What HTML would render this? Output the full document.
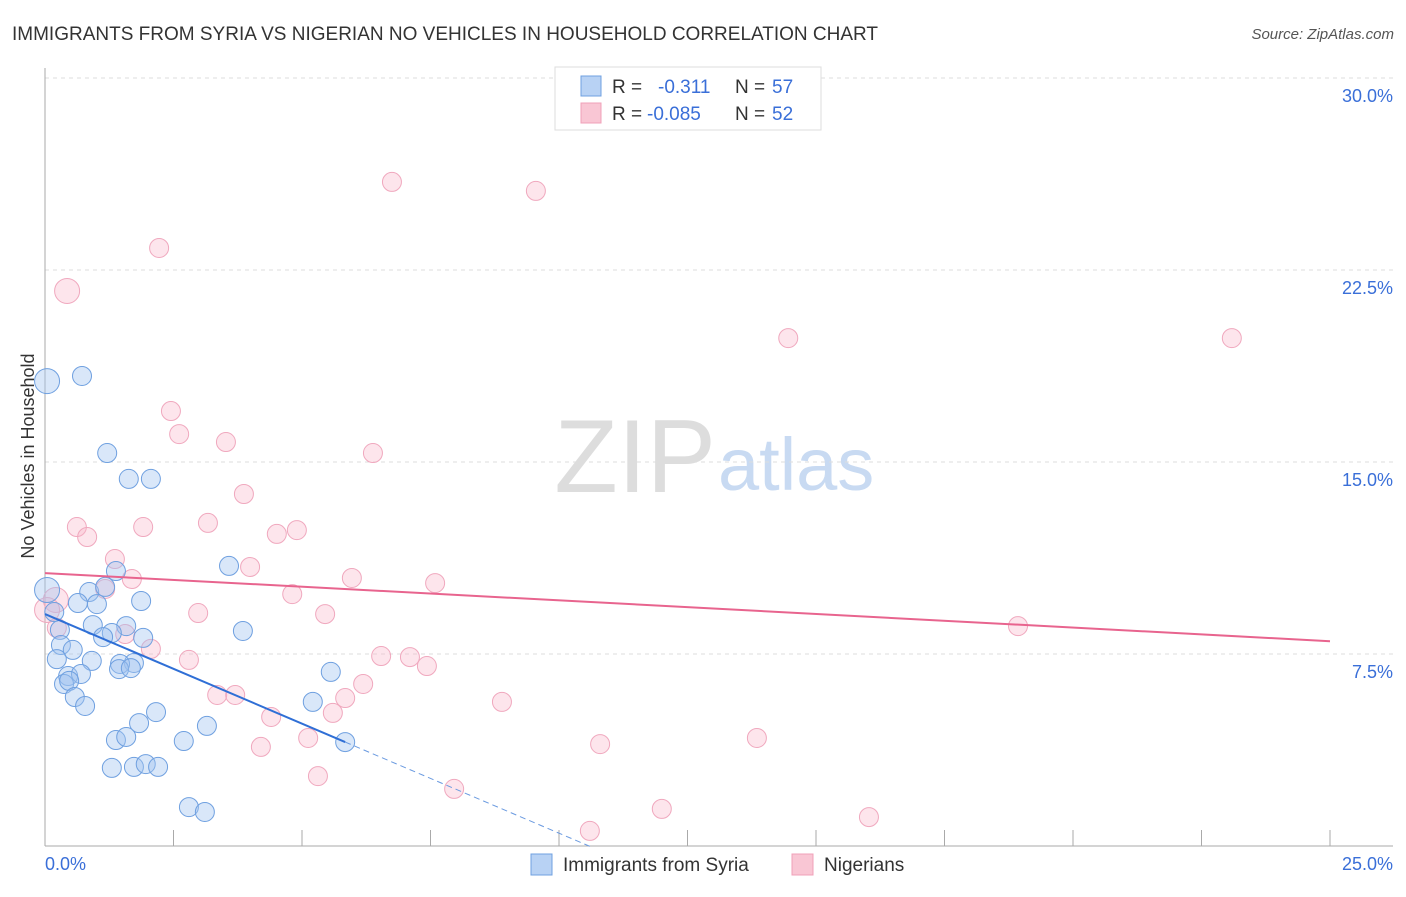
<!DOCTYPE html>
<html><head><meta charset="utf-8"><style>
body{margin:0;background:#fff;font-family:"Liberation Sans",sans-serif;}
svg text{font-family:"Liberation Sans",sans-serif;}
</style></head><body>
<svg id="chart" width="1406" height="892">
<text x="12" y="40" font-size="19" fill="#333">IMMIGRANTS FROM SYRIA VS NIGERIAN NO VEHICLES IN HOUSEHOLD CORRELATION CHART</text>
<text x="1394" y="39" font-size="15" fill="#555" font-style="italic" text-anchor="end">Source: ZipAtlas.com</text>
<text x="716" y="492" font-size="104" fill="#ddd" text-anchor="end" font-family="Liberation Serif">ZIP</text>
<text x="718" y="490" font-size="74" fill="#c8daf2">atlas</text>
<g id="grid"></g>
<g id="axes"></g>
<g id="marks"></g>
<text transform="translate(34,456) rotate(-90)" font-size="18" fill="#333" text-anchor="middle">No Vehicles in Household</text>
<g>
<rect x="555" y="67" width="266" height="63" fill="#fff" stroke="#ddd"/>
<rect x="581" y="76" width="20" height="20" fill="#b8d2f4" stroke="#6fa0e0"/>
<rect x="581" y="103" width="20" height="20" fill="#f9c6d4" stroke="#f0a0b8"/>
<text x="612" y="93" font-size="19" fill="#333">R =</text>
<text x="658" y="93" font-size="19" fill="#3a6fd8">-0.311</text>
<text x="735" y="93" font-size="19" fill="#333">N =</text>
<text x="772" y="93" font-size="19" fill="#3a6fd8">57</text>
<text x="612" y="120" font-size="19" fill="#333">R =</text>
<text x="647" y="120" font-size="19" fill="#3a6fd8">-0.085</text>
<text x="735" y="120" font-size="19" fill="#333">N =</text>
<text x="772" y="120" font-size="19" fill="#3a6fd8">52</text>
</g>
<g>
<rect x="531" y="854" width="21" height="21" fill="#b8d2f4" stroke="#6fa0e0"/>
<text x="563" y="871" font-size="19" fill="#333">Immigrants from Syria</text>
<rect x="792" y="854" width="21" height="21" fill="#f9c6d4" stroke="#f0a0b8"/>
<text x="824" y="871" font-size="19" fill="#333">Nigerians</text>
</g>
</svg>
<script>
const xTicks=[0,2.5,5,7.5,10,12.5,15,17.5,20,22.5,25];
const yTicks=[7.5,15,22.5,30];
const yTickLabels=["7.5%","15.0%","22.5%","30.0%"];
const xEndLabels=["0.0%","25.0%"];
const syriaX=[0.04,0.72,1.21,1.63,2.06,3.58,3.85,1.38,0.86,1.17,1.87,0.64,1.01,0.93,1.58,1.30,0.18,0.29,1.13,1.91,0.31,0.54,0.23,0.91,1.73,1.46,1.44,1.67,5.56,0.45,0.70,0.37,0.47,0.58,0.78,5.21,2.16,1.83,3.15,1.38,1.58,2.70,5.84,1.30,1.73,1.96,2.20,2.80,3.11,0.04];
const syriaY=[18.16,18.36,15.35,14.34,14.34,10.94,8.40,10.74,9.92,10.12,9.57,9.49,9.45,8.63,8.59,8.32,9.14,8.44,8.16,8.13,7.85,7.66,7.30,7.23,7.15,7.11,6.91,6.95,6.80,6.64,6.72,6.33,6.45,5.82,5.47,5.63,5.23,4.80,4.69,4.14,4.26,4.10,4.06,3.05,3.09,3.20,3.09,1.52,1.33,10.00];
const nigX=[6.75,9.55,2.22,0.43,14.46,23.09,2.45,2.61,3.52,6.38,3.87,0.62,3.17,4.90,0.82,4.51,1.91,1.36,3.99,5.97,7.59,1.69,1.17,0.21,2.98,4.81,5.45,18.93,0.23,1.56,2.06,6.54,7.10,2.80,7.43,6.19,3.35,3.70,5.84,8.89,4.40,5.60,5.12,4.20,10.80,13.85,5.31,7.96,12.00,16.03,10.60,0.04];
const nigY=[25.94,25.59,23.36,21.68,19.84,19.84,16.99,16.09,15.78,15.35,13.75,12.46,12.62,12.34,12.07,12.19,12.46,11.21,10.90,10.47,10.27,10.43,10.04,9.61,9.10,9.84,9.06,8.59,8.52,8.28,7.70,7.42,7.38,7.27,7.03,6.33,5.90,5.90,5.78,5.63,5.04,5.20,4.22,3.87,3.98,4.22,2.73,2.23,1.45,1.13,0.59,9.22];
const syriaBig=[0,49];
const nigBig=[3,23,51];
const syriaTrend=[9.06,-0.856,5.84,10.6];
const nigTrend=[10.66,-0.1064];
const X=v=>45+v*1285/25, Y=v=>846-v*25.6;
const NS="http://www.w3.org/2000/svg";
function mk(p,t,a){const e=document.createElementNS(NS,t);for(const k in a)e.setAttribute(k,a[k]);p.appendChild(e);return e;}
const grid=document.getElementById('grid'),axes=document.getElementById('axes'),marks=document.getElementById('marks');
yTicks.forEach((t,i)=>{
 const l=mk(grid,'line',{x1:45,x2:1393,y1:Y(t),y2:Y(t),stroke:'#ddd','stroke-dasharray':'4,4'});
 
 
 const tx=mk(axes,'text',{x:1393,y:Y(t)+24,'font-size':18,fill:'#3a6fd8','text-anchor':'end'});tx.textContent=yTickLabels[i];
 
 
});
const ax=mk(axes,'line',{x1:45,x2:45,y1:68,y2:846,stroke:'#aaa'});


const bx=mk(axes,'line',{x1:45,x2:1393,y1:846,y2:846,stroke:'#aaa'});


xTicks.forEach(t=>{const l=mk(axes,'line',{x1:X(t),x2:X(t),y1:830,y2:846,stroke:'#aaa'});
 
 });
const xl=mk(axes,'text',{x:45,y:870,'font-size':18,fill:'#3a6fd8'});xl.textContent=xEndLabels[0];


const xr=mk(axes,'text',{x:1393,y:870,'font-size':18,fill:'#3a6fd8','text-anchor':'end'});xr.textContent=xEndLabels[1];


nigX.forEach((v,i)=>{const c=mk(marks,'circle',{cx:X(v),cy:Y(nigY[i]),r:nigBig.includes(i)?12.5:9.5,fill:'rgba(248,180,200,0.35)',stroke:'#f0a8be','stroke-width':1});
 
 });
syriaX.forEach((v,i)=>{const c=mk(marks,'circle',{cx:X(v),cy:Y(syriaY[i]),r:syriaBig.includes(i)?12.5:9.5,fill:'rgba(160,196,240,0.4)',stroke:'#6fa0e0','stroke-width':1});
 
 });
const [a,b,xs,xe]=syriaTrend;
const t1=mk(marks,'line',{x1:X(0),y1:Y(a),x2:X(xs),y2:Y(a+b*xs),stroke:'#2f6fd6','stroke-width':2});


const t2=mk(marks,'line',{x1:X(xs),y1:Y(a+b*xs),x2:X(xe),y2:Y(a+b*xe),stroke:'#6a9ae0','stroke-width':1,'stroke-dasharray':'6,4'});


const t3=mk(marks,'line',{x1:X(0),y1:Y(nigTrend[0]),x2:X(25),y2:Y(nigTrend[0]+nigTrend[1]*25),stroke:'#e8648e','stroke-width':2});


</script>
</body></html>
